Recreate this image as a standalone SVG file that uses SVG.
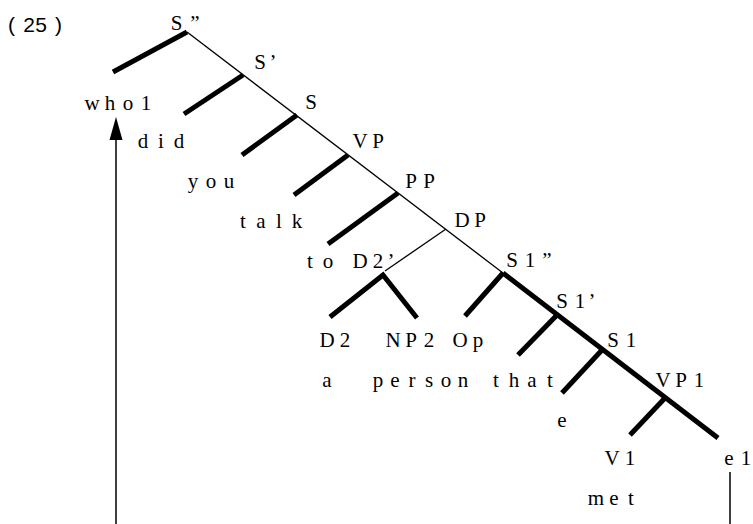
<svg xmlns="http://www.w3.org/2000/svg" width="753" height="524" viewBox="0 0 753 524">
<style>
.lbl{font-family:"Liberation Serif","DejaVu Serif",serif;font-size:21px;fill:#000;text-anchor:middle}
.num{font-family:"Liberation Sans","DejaVu Sans",sans-serif;font-size:21px;fill:#000;text-anchor:middle}
.thin{stroke:#000;stroke-width:1.3;fill:none}
.thick{stroke:#000;stroke-width:5;fill:none}
.mv{stroke:#000;stroke-width:1.5;fill:none}
.head{fill:#000;stroke:none}
</style>
<rect width="753" height="524" fill="#fff"/>
<text class="num" x="11.5 29 41 58.5" y="32">(25)</text>
<g id="connectors">
<line class="thin" x1="187" y1="32" x2="503" y2="273"/>
<line class="thick" x1="503" y1="273" x2="718" y2="438"/>
<line class="thick" x1="187" y1="32" x2="113" y2="72"/>
<line class="thick" x1="243" y1="75" x2="184" y2="114"/>
<line class="thick" x1="297" y1="115" x2="242" y2="155"/>
<line class="thick" x1="348" y1="155" x2="294" y2="195"/>
<line class="thick" x1="398" y1="193" x2="328" y2="244"/>
<line class="thin" x1="446" y1="229" x2="385" y2="271"/>
<polyline class="thick" points="330,317 383,275 417,318"/>
<line class="thick" x1="503" y1="273" x2="465" y2="316"/>
<line class="thick" x1="557" y1="315" x2="518" y2="355"/>
<line class="thick" x1="602" y1="350" x2="562" y2="393"/>
<line class="thick" x1="665" y1="398" x2="630" y2="435"/>
<line class="mv" x1="116" y1="524" x2="116" y2="138"/>
<polygon class="head" points="116,117 122.5,140 109.5,140"/>
<line class="mv" x1="730" y1="472" x2="730" y2="524"/>
</g>
<g id="n-S2"><text class="lbl" x="176.5 195" y="30">S”</text></g>
<g id="n-S1p"><text class="lbl" x="260 273" y="69">S’</text></g>
<g id="n-S"><text class="lbl" x="311" y="109">S</text></g>
<g id="n-VP"><text class="lbl" x="360 378" y="148">VP</text></g>
<g id="n-PP"><text class="lbl" x="411 429" y="188">PP</text></g>
<g id="n-DP"><text class="lbl" x="462 480" y="227">DP</text></g>
<g id="n-who1"><text class="lbl" x="92 110 128 146" y="110">who1</text></g>
<g id="n-did"><text class="lbl" x="143 161 179" y="148">did</text></g>
<g id="n-you"><text class="lbl" x="193 211 229" y="188">you</text></g>
<g id="n-talk"><text class="lbl" x="243 261 279 297" y="228">talk</text></g>
<g id="n-to"><text class="lbl" x="310 328" y="268">to</text></g>
<g id="n-D2p"><text class="lbl" x="360 378 391" y="268">D2’</text></g>
<g id="n-S1pp"><text class="lbl" x="512 530 547" y="267">S1”</text></g>
<g id="n-S1prime"><text class="lbl" x="562 580 592" y="308">S1’</text></g>
<g id="n-S1"><text class="lbl" x="613 631" y="347">S1</text></g>
<g id="n-VP1"><text class="lbl" x="663 681 699" y="387">VP1</text></g>
<g id="n-D2"><text class="lbl" x="327 345" y="347">D2</text></g>
<g id="n-NP2"><text class="lbl" x="393 411 429" y="347">NP2</text></g>
<g id="n-Op"><text class="lbl" x="460 478" y="347">Op</text></g>
<g id="n-a"><text class="lbl" x="327" y="387">a</text></g>
<g id="n-person"><text class="lbl" x="378 395 412 429 446 463" y="387">person</text></g>
<g id="n-that"><text class="lbl" x="496 514 532 550" y="387">that</text></g>
<g id="n-e"><text class="lbl" x="562" y="427">e</text></g>
<g id="n-V1"><text class="lbl" x="612 630" y="465">V1</text></g>
<g id="n-met"><text class="lbl" x="596 614 631" y="505">met</text></g>
<g id="n-e1"><text class="lbl" x="729 746" y="465">e1</text></g>
</svg>
